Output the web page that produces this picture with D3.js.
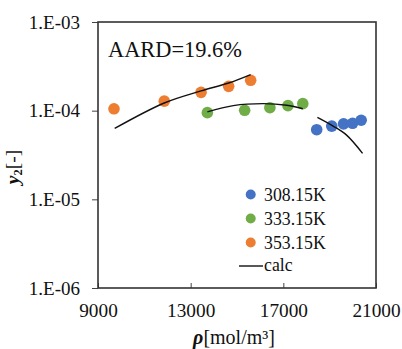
<!DOCTYPE html>
<html><head><meta charset="utf-8">
<script src="https://cdn.jsdelivr.net/npm/d3@7"></script>
<style>html,body{margin:0;padding:0;background:#fff;}svg{display:block;} svg text{font-family:'Liberation Serif','Times New Roman',serif;}</style>
</head><body>
<svg id="c" width="402" height="349"></svg>
<script>
const seriesLabels = ["308.15K", "333.15K", "353.15K"];
const seriesColors = ["#4472C4", "#70AD47", "#ED7D31"];
const rho308 = [18440, 19090, 19600, 19990, 20360];
const y308   = [6.1e-5, 6.7e-5, 7.1e-5, 7.2e-5, 7.8e-5];
const rho333 = [13720, 15330, 16420, 17200, 17840];
const y333   = [9.5e-5, 1.01e-4, 1.08e-4, 1.14e-4, 1.20e-4];
const rho353 = [9690, 11860, 13450, 14640, 15590];
const y353   = [1.05e-4, 1.28e-4, 1.61e-4, 1.88e-4, 2.20e-4];
const calcRho308 = [18470, 19150, 19730, 20420];
const calcY308   = [8.4e-5, 6.7e-5, 5.3e-5, 3.3e-5];
const calcRho333 = [13720, 14840, 16140, 17150, 17840];
const calcY333   = [9.7e-5, 1.14e-4, 1.20e-4, 1.15e-4, 1.05e-4];
const calcRho353 = [9720, 11860, 13450, 14640, 15590];
const calcY353   = [6.3e-5, 1.22e-4, 1.67e-4, 2.05e-4, 2.55e-4];
const xTicks = [9000, 13000, 17000, 21000];
const yTicks = [1e-6, 1e-5, 1e-4, 1e-3];
const yTickLabels = ["1.E-06", "1.E-05", "1.E-04", "1.E-03"];
const annotation = "AARD=19.6%";

const svg = d3.select("#c");
const L = 98, R = 376, T = 22, B = 288;
const x = d3.scaleLinear().domain([9000, 21000]).range([L, R]);
const y = d3.scaleLog().domain([1e-6, 1e-3]).range([B, T]);
const font = "'Liberation Serif','Times New Roman',serif";

// axes
const xAxis = d3.axisBottom(x).tickValues(xTicks).tickSize(-5).tickSizeOuter(0).tickFormat(d3.format("d"));
const gx = svg.append("g").attr("transform", `translate(0,${B})`).call(xAxis);
gx.attr("font-family", null);
gx.select(".domain").remove();
gx.selectAll(".tick line").attr("stroke", "#444");
gx.selectAll(".tick text").style("font-family", font).attr("font-size", 19.3).attr("fill", "#111").attr("dy", null).attr("y", 29);

const yAxis = d3.axisLeft(y).tickValues(yTicks).tickSize(6).tickSizeOuter(0).tickFormat(d => yTickLabels[yTicks.indexOf(d)]);
const gy = svg.append("g").attr("transform", `translate(${L},0)`).call(yAxis);
gy.attr("font-family", null);
gy.select(".domain").remove();
gy.selectAll(".tick line").attr("stroke", "#444");
gy.selectAll(".tick text").style("font-family", font).attr("font-size", 19).attr("fill", "#111").attr("x", -18).attr("dy", "0.33em");

// frame
svg.append("rect").attr("x", L).attr("y", T).attr("width", R - L).attr("height", B - T)
  .attr("fill", "none").attr("stroke", "#333").attr("stroke-width", 1.6);

// points
const sets = [[rho308, y308], [rho333, y333], [rho353, y353]];
sets.forEach((s, k) => {
  svg.append("g").selectAll("circle").data(s[0]).join("circle")
    .attr("cx", d => x(d)).attr("cy", (d, i) => y(s[1][i])).attr("r", 5.8)
    .attr("fill", seriesColors[k]);
});

// calc lines
const line = d3.line().x(d => x(d[0])).y(d => y(d[1])).curve(d3.curveCatmullRom);
[[calcRho308, calcY308], [calcRho333, calcY333], [calcRho353, calcY353]].forEach(c => {
  svg.append("path").attr("d", line(c[0].map((r, i) => [r, c[1][i]])))
    .attr("fill", "none").attr("stroke", "#111").attr("stroke-width", 1.4);
});

// annotation
svg.append("text").attr("x", 108).attr("y", 57).style("font-family", font).attr("font-size", 22.4)
  .attr("fill", "#111").text(annotation);

// legend
const legY = [194.5, 218.5, 242.5];
seriesLabels.forEach((lab, k) => {
  svg.append("circle").attr("cx", 250.7).attr("cy", legY[k]).attr("r", 5).attr("fill", seriesColors[k]);
  svg.append("text").attr("x", 264).attr("y", legY[k] + 6).style("font-family", font).attr("font-size", 17.8)
    .attr("fill", "#111").text(lab);
});
svg.append("line").attr("x1", 239).attr("x2", 263).attr("y1", 266).attr("y2", 266).attr("stroke", "#111").attr("stroke-width", 1.4);
svg.append("text").attr("x", 264).attr("y", 271).style("font-family", font).attr("font-size", 17.8).attr("fill", "#111").text("calc");

// axis titles
const xt = svg.append("text").attr("x", 234).attr("y", 344).attr("text-anchor", "middle")
  .style("font-family", font).attr("font-size", 20).attr("fill", "#111");
xt.append("tspan").attr("font-weight", "bold").attr("font-style", "italic").text("ρ");
xt.append("tspan").text("[mol/m³]");

const yt = svg.append("text").attr("transform", "translate(19,167) rotate(-90)").attr("text-anchor", "middle")
  .style("font-family", font).attr("font-size", 19.5).attr("fill", "#111");
yt.append("tspan").attr("font-weight", "bold").attr("font-style", "italic").text("y");
yt.append("tspan").attr("font-weight", "bold").attr("font-size", 12.5).attr("dy", 3).text("2");
yt.append("tspan").attr("dy", -3).text("[-]");
</script>
</body></html>
